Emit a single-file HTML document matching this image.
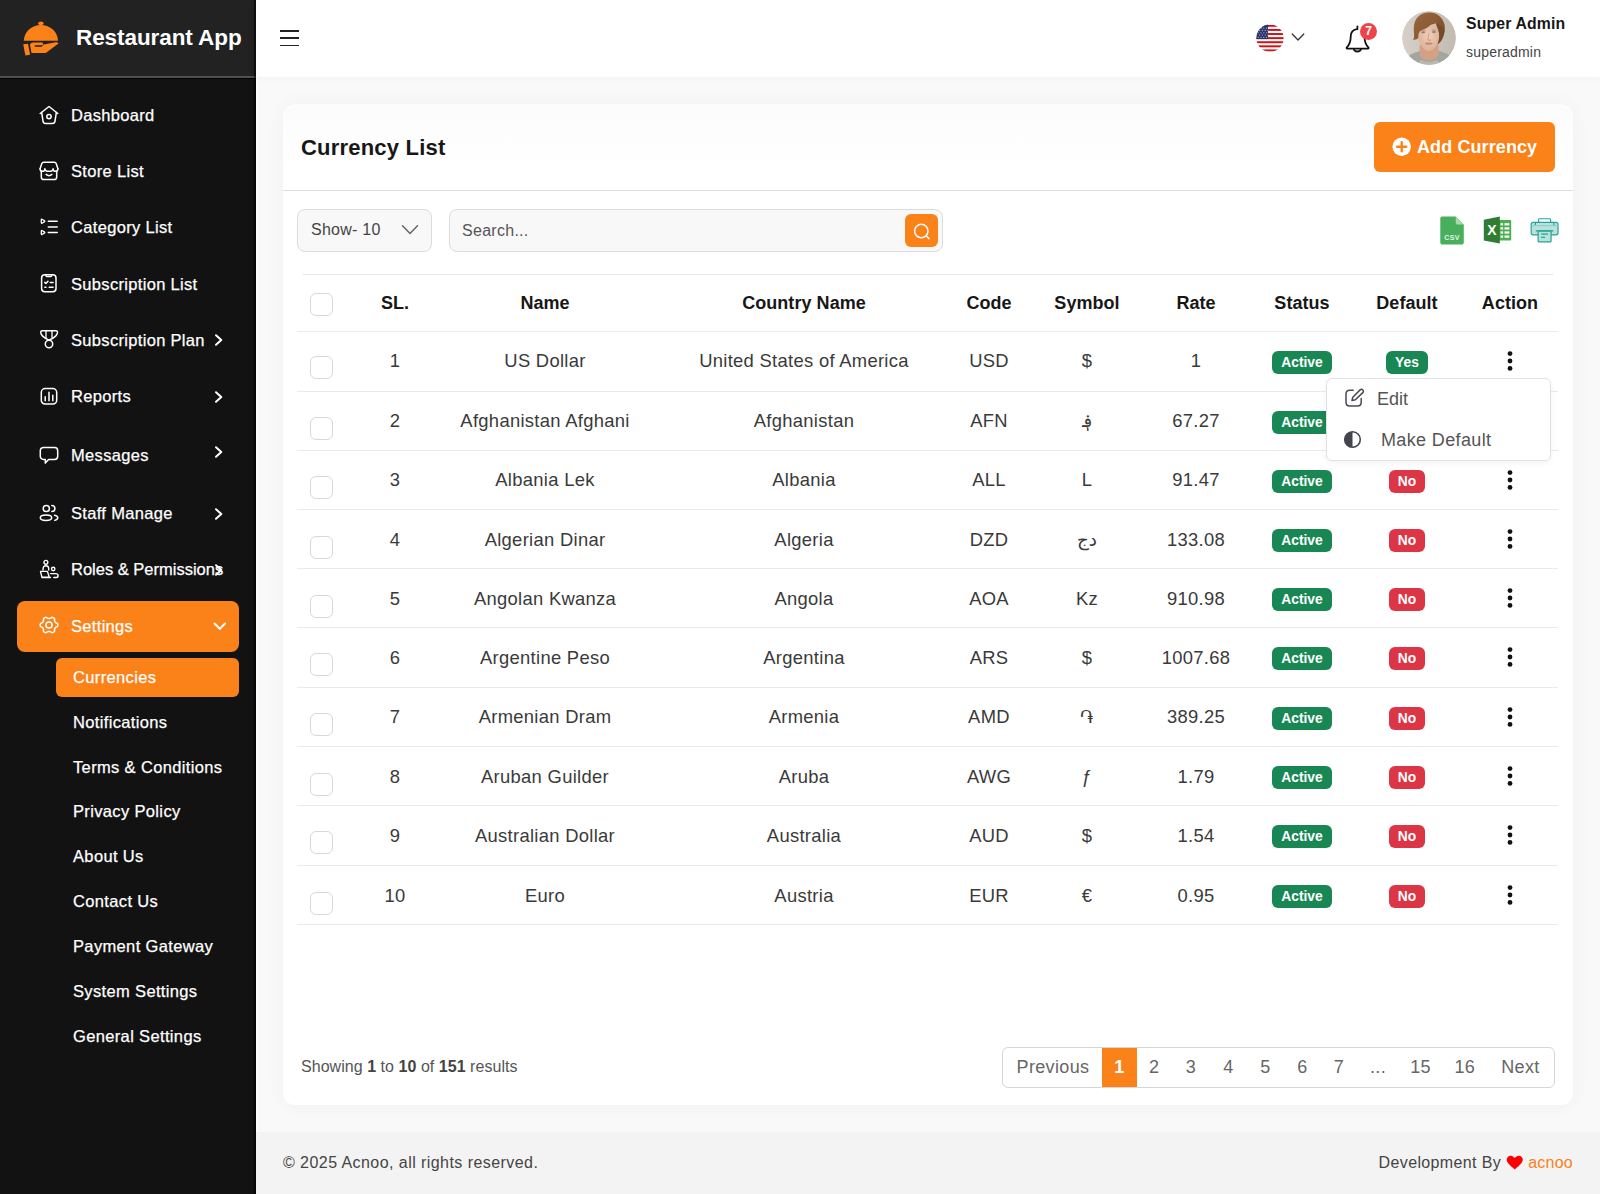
<!DOCTYPE html>
<html lang="en">
<head>
<meta charset="utf-8">
<title>Currency List</title>
<style>
*{box-sizing:border-box;margin:0;padding:0}
html,body{width:1600px;height:1194px;overflow:hidden}
body{font-family:"Liberation Sans","DejaVu Sans",sans-serif;background:#f9f9f9;color:#222;position:relative}
.abs{position:absolute}
/* sidebar */
#side{position:absolute;left:0;top:0;width:256px;height:1194px;background:#121212}
#brand{position:absolute;left:0;top:0;width:256px;height:78px;background:#222;border-bottom:2px solid #505050;box-shadow:0 1px 0 #000}
#brand .name{position:absolute;left:76px;top:22px;font-size:22.5px;font-weight:700;color:#fff;letter-spacing:-0.08px;line-height:32px;white-space:nowrap}
.mi{position:absolute;left:71px;color:#fff;font-size:16.5px;line-height:20px;white-space:nowrap;letter-spacing:0.32px;-webkit-text-stroke:0.25px #fff}
.ico{position:absolute;left:39px;width:20px;height:20px}
.ico svg{display:block}
.arr{position:absolute;left:212px}
.sub{position:absolute;left:73px;color:#fff;font-size:16.5px;line-height:20px;white-space:nowrap;letter-spacing:0.35px;-webkit-text-stroke:0.25px #fff}
#set{position:absolute;left:17px;top:600.5px;width:222px;height:51px;background:#fb8119;border-radius:8px}
#cur{position:absolute;left:56px;top:657.5px;width:183px;height:39px;background:#fb8119;border-radius:6px}
/* topbar */
#top{position:absolute;left:256px;top:0;width:1344px;height:77px;background:#fff;box-shadow:0 1px 8px rgba(0,0,0,0.03)}
/* card */
#card{position:absolute;left:283px;top:104px;width:1290px;height:1001px;background:linear-gradient(#fcfcfc,#fff 70px);border-radius:12px;box-shadow:0 0 20px rgba(0,0,0,0.04)}
#foot{position:absolute;left:256px;top:1132px;width:1344px;height:62px;background:#f3f3f3}

/* topbar items */
#burger{position:absolute;left:24px;top:30px;width:20px;height:16px}
#burger i{position:absolute;left:0;width:19px;height:1.6px;background:#222}
#flag{position:absolute;left:1000px;top:24px;width:28px;height:28px}
#uname{position:absolute;left:1210px;top:14px;font-size:15.8px;font-weight:700;color:#171717;line-height:20px;white-space:nowrap;letter-spacing:0.15px}
#urole{position:absolute;left:1210px;top:42.700px;font-size:14px;color:#444;line-height:18px;white-space:nowrap;letter-spacing:0.2px}
#avatar{position:absolute;left:1146px;top:11px;width:54px;height:54px;border-radius:50%;overflow:hidden}
/* card content */
#title{position:absolute;left:18px;top:29px;font-size:22px;font-weight:700;color:#171717;line-height:30px;white-space:nowrap;letter-spacing:0.2px}
#addbtn{position:absolute;left:1091px;top:18.400px;width:181px;height:49.300px;background:#fb8119;border-radius:6px;color:#fff;font-weight:700;font-size:18px;line-height:50px;white-space:nowrap}
#addbtn span{position:absolute;left:43px;top:0;letter-spacing:0.1px}
#hr1{position:absolute;left:0;top:85.5px;width:1290px;height:1.5px;background:#dedee0}
#show{position:absolute;left:14px;top:105px;width:135px;height:43px;border:1px solid #dcdcdf;border-radius:8px;background:#f8f8f8;font-size:16px;color:#444;line-height:40px;padding-left:13px;letter-spacing:0.24px}
#search{position:absolute;left:166px;top:105px;width:494px;height:43px;border:1px solid #dcdcdf;border-radius:8px;background:#f8f8f8;font-size:16px;color:#555;line-height:41px;padding-left:12px;letter-spacing:0.28px}
#sbtn{position:absolute;left:455px;top:3.5px;width:33px;height:33px;background:#fb8119;border-radius:6px}
table{position:absolute;left:14px;top:170px;width:1261px;border-collapse:collapse;table-layout:fixed}
th,td{text-align:center;vertical-align:middle;padding:0;white-space:nowrap}
thead tr{height:57px;border-bottom:1px solid #ececf0}
tr.u td{padding-top:0;padding-bottom:1px}
tr.d td{padding-top:3px}
#tline{position:absolute;left:20px;top:170px;width:1250px;height:1px;background:#e6e6ea}
tbody tr{border-bottom:1px solid #e9e9ee}
th{font-size:18px;font-weight:700;color:#171717;letter-spacing:0.05px;padding-top:2px}
td{font-size:18.4px;color:#3a3a3a;letter-spacing:0.3px;padding-top:1px}
.c{text-align:left;padding-left:13px}
.cb{display:inline-block;width:23px;height:23px;border:1px solid #d8d8dc;border-radius:6px;background:#fff;vertical-align:middle;position:relative;top:1.5px}
td .cb{top:7px}
.bd{display:inline-block;height:23px;line-height:23px;border-radius:6px;color:#fff;font-size:13.8px;font-weight:700;padding:0 9.5px;position:relative;top:0.75px;letter-spacing:0}
.bd.r{padding:0 8.6px}
tr.d .bd{top:0px}
tr.u .bd{top:1.5px}
tr.d .dots{top:-2.5px}
tr.u .dots{top:-0.5px}
.g{background:#198754}.r{background:#dc3545}
.dots{display:inline-block;width:6px;height:20px;position:relative;top:-1.5px;vertical-align:middle}
#showing{position:absolute;left:18px;top:953px;font-size:16px;color:#555;line-height:20px;letter-spacing:0.04px}
#showing b{color:#444}
#pag{position:absolute;left:719px;top:943px;width:553px;height:41px;border:1px solid #d6d6db;border-radius:6px;background:#fff;overflow:hidden;font-size:18px;color:#666;line-height:39px}
#pag span{position:absolute;top:0;text-align:center;white-space:nowrap;letter-spacing:0.37px}
#pag .act{background:#fb8119;color:#fff;font-weight:700;height:39px}
#menu{position:absolute;left:1043px;top:274px;width:225px;height:83px;background:#fff;border:1px solid #e2e2e6;border-radius:6px;box-shadow:0 2px 6px rgba(0,0,0,0.05);font-size:18px;color:#555}
#menu span{position:absolute;white-space:nowrap;line-height:22px;letter-spacing:0.37px}
#copy{position:absolute;left:27px;top:21px;font-size:16px;color:#444;line-height:20px;letter-spacing:0.44px}
#dev{position:absolute;right:27px;top:21px;font-size:16px;color:#444;line-height:20px;white-space:nowrap;letter-spacing:0.36px}
#dev em{font-style:normal;color:#fb8119;letter-spacing:0.25px}
</style>
</head>
<body>
<div id="side">
  <div id="brand">
    <svg class="abs" style="left:20px;top:18px" width="42" height="40" viewBox="20 18 42 40"><g fill="#fb8119"><ellipse cx="40.900" cy="23.300" rx="2.700" ry="1.900"/><path d="M23.800 40.800C24.200 31.800 31.400 25 40.900 25s16.700 6.800 17.100 15.800z"/><path d="M23.200 44.300l4.800-.6 2.100 11-4.700.9z"/><path d="M30 44.600c.5-1.300 1.700-2.100 3.300-2.100h8.300c.9 0 1.500.6 1.500 1.400 0 .8-.6 1.400-1.500 1.400h-6.200c-.5 0-.8.300-.8.750s.3.750.8.750h6.300l1.900-2.300 12-2.300c1.200-.2 2.400.2 2.900 1.300L45.800 53.100H31.500z"/></g></svg>
    <div class="name">Restaurant App</div>
  </div>
<div class="abs" style="left:254px;top:0;width:2px;height:1194px;background:rgba(0,0,0,0.55);z-index:3"></div>
<!--SIDE-->
<div class="ico" style="top:104.5px"><svg width="20" height="20" viewBox="0 0 20 20" fill="none" stroke="#fff" stroke-width="1.500" stroke-linecap="round" stroke-linejoin="round"><path d="M1.200 8.500 10 1.500l8.800 7"/><path d="M2.700 7.600l1.300 8.600c.2 1.400 1.200 2.200 2.600 2.200h6.800c1.400 0 2.400-.8 2.600-2.200l1.300-8.600"/><circle cx="10" cy="11.600" r="2.200"/></svg></div><div class="mi" style="top:104.5px">Dashboard</div>
<div class="ico" style="top:160.7px"><svg width="20" height="20" viewBox="0 0 20 20" fill="none" stroke="#fff" stroke-width="1.500" stroke-linecap="round" stroke-linejoin="round"><path d="M1.100 7.700 2.800 2.600c.3-.8 1-1.300 1.900-1.300h10.600c.9 0 1.600.5 1.900 1.300l1.700 5.100"/><path d="M1.100 7.700c0 1.500 1 2.600 2.400 2.600s2.400-1.100 2.400-2.600c0 1.500 1.800 2.600 4.100 2.600s4.100-1.100 4.100-2.600c0 1.500 1 2.600 2.400 2.600s2.400-1.100 2.400-2.600"/><path d="M2.300 10v5.900c0 1.600 1 2.600 2.600 2.600h10.200c1.600 0 2.600-1 2.600-2.600V10"/><path d="M7.100 13.400c1.600 1.400 4.200 1.400 5.800 0"/></svg></div><div class="mi" style="top:161px">Store List</div>
<div class="ico" style="top:216.7px"><svg width="20" height="20" viewBox="0 0 20 20" fill="none" stroke="#fff" stroke-width="1.500" stroke-linecap="round" stroke-linejoin="round"><path d="M9.300 4.200h8.900M9.300 10h8.900M9.300 15.500h8.900"/><path d="M2.300 2.600v3.200c0 .4.400.6.700.4l2.600-1.600c.3-.2.300-.6 0-.8L3 2.200c-.3-.2-.7 0-.7.400zM2.300 13.900v3.200c0 .4.400.6.700.4l2.600-1.600c.3-.2.300-.6 0-.8L3 13.500c-.3-.2-.7 0-.7.400z" stroke-width="1.300"/></svg></div><div class="mi" style="top:217px">Category List</div>
<div class="ico" style="top:273.0px"><svg width="20" height="20" viewBox="0 0 20 20" fill="none" stroke="#fff" stroke-width="1.500" stroke-linecap="round" stroke-linejoin="round"><rect x="2.600" y="1.800" width="14.400" height="17" rx="3.200"/><path d="M6.800 1.800v.6c0 .7.500 1.100 1.100 1.100h3.800c.6 0 1.100-.4 1.100-1.100v-.6" stroke-width="1.300"/><path d="M5.800 9.400l1.100 1.100 2.100-2.300M11.200 9.500h2.900M5.900 14.300h1.100M10.200 14.300h3.900"/></svg></div><div class="mi" style="top:273.5px">Subscription List</div>
<div class="ico" style="top:329.0px"><svg width="20" height="20" viewBox="0 0 20 20" fill="none" stroke="#fff" stroke-width="1.500" stroke-linecap="round" stroke-linejoin="round"><path d="M3.200 1.800h13.800c1 0 1.600.6 1.500 1.600-.4 2.600-2.200 4.500-5.200 6.100L10 11.200 6.900 9.500C3.900 7.900 2.100 6 1.700 3.400 1.600 2.400 2.200 1.800 3.200 1.800z"/><path d="M7 1.800v6.800M13 1.800v6.800" stroke-width="1.300"/><circle cx="10" cy="15" r="3.700"/></svg></div><div class="mi" style="top:329.5px">Subscription Plan</div>
<svg class="arr" style="top:333.0px" width="12" height="14" viewBox="0 0 12 14" fill="none" stroke="#fff" stroke-width="2" stroke-linecap="round" stroke-linejoin="round"><path d="M4 2.200 9.300 7 4 11.800"/></svg>
<div class="ico" style="top:385.5px"><svg width="20" height="20" viewBox="0 0 20 20" fill="none" stroke="#fff" stroke-width="1.500" stroke-linecap="round" stroke-linejoin="round"><rect x="2.300" y="2.600" width="15.400" height="15.400" rx="3.800"/><path d="M6.200 10.800v4M10 6.200v8.600M13.800 9.200v5.600"/></svg></div><div class="mi" style="top:386px">Reports</div>
<svg class="arr" style="top:389.5px" width="12" height="14" viewBox="0 0 12 14" fill="none" stroke="#fff" stroke-width="2" stroke-linecap="round" stroke-linejoin="round"><path d="M4 2.200 9.300 7 4 11.800"/></svg>
<div class="ico" style="top:445px"><svg width="20" height="20" viewBox="0 0 20 20" fill="none" stroke="#fff" stroke-width="1.500" stroke-linecap="round" stroke-linejoin="round"><path d="M4.500 2.500h11c1.900 0 3.200 1.300 3.200 3.200v5.500c0 1.900-1.300 3.200-3.200 3.200H9.600l-3.300 3.700v-3.700H4.500c-1.900 0-3.200-1.300-3.200-3.200V5.700c0-1.900 1.300-3.200 3.200-3.200z"/></svg></div><div class="mi" style="top:445px">Messages</div>
<svg class="arr" style="top:445px" width="12" height="14" viewBox="0 0 12 14" fill="none" stroke="#fff" stroke-width="2" stroke-linecap="round" stroke-linejoin="round"><path d="M4 2.200 9.300 7 4 11.800"/></svg>
<div class="ico" style="top:503px"><svg width="20" height="20" viewBox="0 0 20 20" fill="none" stroke="#fff" stroke-width="1.500" stroke-linecap="round" stroke-linejoin="round"><circle cx="7.300" cy="5.500" r="3.100"/><ellipse cx="7" cy="14.800" rx="5.700" ry="2.700"/><path d="M12.800 2.400c1.700 0 3.100 1.400 3.100 3.100s-1.400 3.100-3.100 3.100M15.500 12.200c2 .4 3.300 1.400 3.300 2.600s-1.200 2.100-3 2.600"/></svg></div><div class="mi" style="top:503px">Staff Manage</div>
<svg class="arr" style="top:506.5px" width="12" height="14" viewBox="0 0 12 14" fill="none" stroke="#fff" stroke-width="2" stroke-linecap="round" stroke-linejoin="round"><path d="M4 2.200 9.300 7 4 11.800"/></svg>
<div class="ico" style="top:558.5px"><svg width="20" height="20" viewBox="0 0 20 20" fill="none" stroke="#fff" stroke-width="1.500" stroke-linecap="round" stroke-linejoin="round"><circle cx="6.900" cy="3.300" r="1.900" stroke-width="1.400"/><path d="M4.100 11V9.600c0-1.800 1.100-2.900 2.800-2.900s2.800 1.100 2.800 2.900V11" stroke-width="1.400"/><path d="M1.500 12.400h6.900l1.900 5.800H2.900zM2.900 18.500h8.600" stroke-width="1.400"/><circle cx="14.200" cy="10" r="1.700" stroke-width="1.400"/><path d="M11.600 14.600h5c1.500 0 2.500.9 2.500 2.100 0 1-.8 1.800-1.900 1.800h-2.400" stroke-width="1.400"/></svg></div><div class="mi" style="top:559px;letter-spacing:0">Roles &amp; Permissions</div>
<svg class="arr" style="top:562.5px" width="12" height="14" viewBox="0 0 12 14" fill="none" stroke="#fff" stroke-width="2" stroke-linecap="round" stroke-linejoin="round"><path d="M4 2.200 9.300 7 4 11.800"/></svg>
<div id="set"></div>
<div class="ico" style="top:615px"><svg width="20" height="20" viewBox="0 0 20 20" fill="none" stroke="#fff" stroke-width="1.500" stroke-linecap="round" stroke-linejoin="round"><path d="M18.80 10.00 18.78 10.36 18.73 10.73 18.63 11.08 18.44 11.41 18.09 11.70 17.58 11.93 17.07 12.12 16.70 12.32 16.46 12.54 16.28 12.78 16.13 13.03 15.98 13.28 15.83 13.53 15.68 13.78 15.55 14.04 15.46 14.35 15.47 14.76 15.55 15.27 15.60 15.80 15.51 16.24 15.30 16.56 15.03 16.82 14.72 17.05 14.40 17.24 14.06 17.41 13.71 17.55 13.33 17.64 12.93 17.65 12.49 17.51 12.03 17.20 11.60 16.88 11.24 16.67 10.91 16.59 10.60 16.56 10.30 16.56 10.00 16.55 9.70 16.56 9.40 16.56 9.09 16.59 8.76 16.67 8.40 16.88 7.97 17.20 7.51 17.51 7.07 17.65 6.67 17.64 6.29 17.55 5.94 17.41 5.60 17.24 5.28 17.05 4.97 16.82 4.70 16.56 4.49 16.24 4.40 15.80 4.45 15.27 4.53 14.76 4.54 14.35 4.45 14.04 4.32 13.78 4.17 13.53 4.02 13.28 3.87 13.03 3.72 12.78 3.54 12.54 3.30 12.32 2.93 12.12 2.42 11.93 1.91 11.70 1.56 11.41 1.37 11.08 1.27 10.73 1.22 10.36 1.20 10.00 1.22 9.64 1.27 9.27 1.37 8.92 1.56 8.59 1.91 8.30 2.42 8.07 2.93 7.88 3.30 7.68 3.54 7.46 3.72 7.22 3.87 6.97 4.02 6.72 4.17 6.47 4.32 6.22 4.45 5.96 4.54 5.65 4.53 5.24 4.45 4.73 4.40 4.20 4.49 3.76 4.70 3.44 4.97 3.18 5.28 2.95 5.60 2.76 5.94 2.59 6.29 2.45 6.67 2.36 7.07 2.35 7.51 2.49 7.97 2.80 8.40 3.12 8.76 3.33 9.09 3.41 9.40 3.44 9.70 3.44 10.00 3.45 10.30 3.44 10.60 3.44 10.91 3.41 11.24 3.33 11.60 3.12 12.03 2.80 12.49 2.49 12.93 2.35 13.33 2.36 13.71 2.45 14.06 2.59 14.40 2.76 14.72 2.95 15.03 3.18 15.30 3.44 15.51 3.76 15.60 4.20 15.55 4.73 15.47 5.24 15.46 5.65 15.55 5.96 15.68 6.22 15.83 6.47 15.98 6.72 16.13 6.97 16.28 7.22 16.46 7.46 16.70 7.68 17.07 7.88 17.58 8.07 18.09 8.30 18.44 8.59 18.63 8.92 18.73 9.27 18.78 9.64z"/><circle cx="10" cy="10" r="3.100"/></svg></div><div class="mi" style="top:616px">Settings</div>
<svg class="arr" style="top:619px;left:212px" width="16" height="14" viewBox="0 0 16 14" fill="none" stroke="#fff" stroke-width="2.100" stroke-linecap="round" stroke-linejoin="round"><path d="M2.500 4.500 7.800 9.800 13.100 4.500"/></svg>
<div id="cur"></div>
<div class="sub" style="top:666.5px">Currencies</div>
<div class="sub" style="top:711.5px">Notifications</div>
<div class="sub" style="top:756.5px">Terms &amp; Conditions</div>
<div class="sub" style="top:801px">Privacy Policy</div>
<div class="sub" style="top:846px">About Us</div>
<div class="sub" style="top:891px">Contact Us</div>
<div class="sub" style="top:936px">Payment Gateway</div>
<div class="sub" style="top:981px">System Settings</div>
<div class="sub" style="top:1026px">General Settings</div>
<!--/SIDE-->
</div>
<div id="top">
  <div id="burger"><i style="top:0"></i><i style="top:7.300px"></i><i style="top:14.700px"></i></div>
  <svg id="flag" viewBox="0 0 28 28"><defs><clipPath id="fc"><circle cx="14" cy="14.200" r="13.600"/></clipPath></defs><g clip-path="url(#fc)"><rect width="28" height="28" fill="#fff"/><g fill="#cf1016"><rect y="0.85" width="28" height="1.950"/><rect y="4.95" width="28" height="1.950"/><rect y="9.05" width="28" height="1.950"/><rect y="13.15" width="28" height="1.950"/><rect y="17.25" width="28" height="1.950"/><rect y="21.35" width="28" height="1.950"/><rect y="25.45" width="28" height="1.950"/></g><rect width="12.100" height="15.100" fill="#27346b"/><g fill="#aab0cc"><circle cx="2.2" cy="4.2" r=".65"/><circle cx="5.0" cy="4.2" r=".65"/><circle cx="7.8" cy="4.2" r=".65"/><circle cx="10.6" cy="4.2" r=".65"/><circle cx="3.6" cy="6.5" r=".65"/><circle cx="6.4" cy="6.5" r=".65"/><circle cx="9.2" cy="6.5" r=".65"/><circle cx="12.0" cy="6.5" r=".65"/><circle cx="2.2" cy="8.8" r=".65"/><circle cx="5.0" cy="8.8" r=".65"/><circle cx="7.8" cy="8.8" r=".65"/><circle cx="10.6" cy="8.8" r=".65"/><circle cx="3.6" cy="11.1" r=".65"/><circle cx="6.4" cy="11.1" r=".65"/><circle cx="9.2" cy="11.1" r=".65"/><circle cx="12.0" cy="11.1" r=".65"/><circle cx="2.2" cy="13.4" r=".65"/><circle cx="5.0" cy="13.4" r=".65"/><circle cx="7.8" cy="13.4" r=".65"/><circle cx="10.6" cy="13.4" r=".65"/></g></g></svg>
  <svg class="abs" style="left:1035px;top:31.5px" width="14" height="10" viewBox="0 0 14 10" fill="none" stroke="#333" stroke-width="1.250" stroke-linecap="round" stroke-linejoin="round"><path d="M1.200 2 7 8l5.800-6"/></svg>
  <svg class="abs" style="left:1088px;top:24px" width="28" height="30" viewBox="1344 24 28 30" fill="none" stroke="#111" stroke-width="1.800" stroke-linecap="round" stroke-linejoin="round"><path d="M1357.400 26.500v2.600M1357.400 29.200c-4.200.3-6.700 3.300-6.700 7.600 0 5.200-1.600 8.400-3.900 10.600-.5.500-.3 1.200.5 1.200h20.600c.8 0 1-.7.500-1.200-2.300-2.200-3.900-5.400-3.900-10.600"/><path d="M1353.800 48.800c.3 1.700 1.700 2.700 3.600 2.700s3.300-1 3.600-2.700"/></svg>
  <div class="abs" style="left:1104px;top:23px;width:17px;height:17px;border-radius:50%;background:#ee4447;color:#fff;font-size:12px;line-height:17px;text-align:center;font-weight:700">7</div>
  <svg id="avatar" viewBox="0 0 54 54"><defs><clipPath id="ac"><circle cx="27" cy="27" r="27"/></clipPath><filter id="bl" x="-20%" y="-20%" width="140%" height="140%"><feGaussianBlur stdDeviation="0.6"/></filter><linearGradient id="abg" x1="0" x2="1"><stop offset="0" stop-color="#d6d0c8"/><stop offset="1" stop-color="#c2bbb0"/></linearGradient><radialGradient id="skin" cx=".5" cy=".45" r=".6"><stop offset="0" stop-color="#f0cfb8"/><stop offset="1" stop-color="#dcae92"/></radialGradient><linearGradient id="hair" x1="0" x2="1" y1="0" y2="1"><stop offset="0" stop-color="#9a6840"/><stop offset=".5" stop-color="#8a5a34"/><stop offset="1" stop-color="#6f4526"/></linearGradient></defs><g clip-path="url(#ac)"><rect width="54" height="54" fill="url(#abg)"/><g filter="url(#bl)"><path d="M4 54c0-7 3-10.500 8-12l6-2 19-.3 6 2.300c5 1.500 8 5 8 12z" fill="#a3a69c"/><path d="M17.600 34h19v9c-1.500 4-5 6.500-9.500 6.500s-8-2.500-9.500-6.500z" fill="#d3a286"/><path d="M15 54c1-2.500 2.500-4 4.500-5 2 1.200 4.500 1.800 7.500 1.800s5.500-.6 7.500-1.800c2 1 3.500 2.500 4.500 5z" fill="#b9b9b1"/><path d="M16.300 23c0-6 4.200-10 10.600-10s10.300 4 10.300 10c0 4-.6 8-2.600 11.500-2 3.500-4.900 5.600-7.700 5.600s-5.700-2.100-7.800-5.600c-2-3.500-2.800-7.500-2.800-11.500z" fill="url(#skin)"/><path d="M10.900 28.800c2.500.3 4.500-.5 5.600-2.200-.3-2-.1-4 1.100-6.100 1.500-.8 3-1.500 3.900-2.200 3-1 5.500-2.800 6.800-4.300 2-.8 4.200-1.300 5.600-1.800.6 2.200 1.500 4.300 2.100 6.100.8 2.200 1.300 4.500 1.200 6.700-.1 3-.6 5.800-1.700 8.500 2-1.500 3.500-3.200 4.500-5 2.500-5 3.500-10 2.500-15C40.500 6 35 1.400 27.100 1.400 18.500 1.400 12.300 7 11.800 16c-.2 4 .5 7.500.3 10-.1 1.200-.5 2-1.200 2.800z" fill="url(#hair)"/><path d="M33.900 12.200c.6 2.200 1.500 4.300 2.100 6.100.8 2.200 1.300 4.500 1.200 6.700-.1 3-.6 5.800-1.700 8.500 2-1.500 3.500-3.200 4.500-5 1.500-3 2.300-6 2.600-9-1.500-3.500-4.500-6-8.700-7.300z" fill="#74482a" opacity=".7"/><ellipse cx="21.200" cy="21.300" rx="1.900" ry="1" fill="#6e8494"/><ellipse cx="31.900" cy="21" rx="1.900" ry="1" fill="#6e8494"/><path d="M19 19.600c1.500-.8 3-.8 4.500-.2M29.800 19.400c1.500-.7 3-.6 4.500.1" stroke="#a57c5c" stroke-width=".7" fill="none"/><path d="M26.800 22.500l-.8 6.300c.8.600 2.200.6 3.200 0" stroke="#d0a086" stroke-width="1.100" fill="none"/><ellipse cx="26.700" cy="32.600" rx="3.900" ry="1.300" fill="#c98c80"/></g></g></svg>
  <div id="uname">Super Admin</div>
  <div id="urole">superadmin</div>
</div>
<div id="card">
  <div id="title">Currency List</div>
  <div id="addbtn"><svg class="abs" style="left:18px;top:14.800px" width="19.400" height="19.400" viewBox="0 0 18 18"><circle cx="9" cy="9" r="8.600" fill="#fff"/><path d="M9 4.800v8.400M4.800 9h8.400" stroke="#fb8119" stroke-width="2.200" stroke-linecap="round"/></svg><span>Add Currency</span></div>
  <div id="hr1"></div>
  <div id="show">Show- 10<svg class="abs" style="left:103px;top:14px" width="18" height="12" viewBox="0 0 18 12" fill="none" stroke="#666" stroke-width="1.500" stroke-linecap="round" stroke-linejoin="round"><path d="M1.500 1.800 9 9.500l7.500-7.700"/></svg></div>
  <div id="search">Search...<div id="sbtn"><svg class="abs" style="left:7px;top:8px" width="20" height="20" viewBox="0 0 20 20" fill="none" stroke="#fff" stroke-width="1.500" stroke-linecap="round"><circle cx="9.300" cy="9" r="6.700"/><path d="M14.200 13.800l2.800 2.800"/></svg></div></div>
<svg class="abs" style="left:1157px;top:112px" width="25.300" height="29" viewBox="0 0 27 31"><path d="M2.500.6h14.300l8.600 8.600v19c0 1.300-.9 2.200-2.200 2.200H2.500c-1.300 0-2.200-.9-2.200-2.200V2.800C.3 1.500 1.200.6 2.500.6z" fill="#48b05c"/><path d="M16.800.6l8.600 8.600h-6.400c-1.300 0-2.200-.9-2.200-2.200z" fill="#a6dbb0"/><text x="12.800" y="25.200" font-family="Liberation Sans,sans-serif" font-size="7.500" font-weight="700" fill="#e6f6e9" text-anchor="middle" letter-spacing=".3">CSV</text></svg>
<svg class="abs" style="left:1200px;top:112px" width="29" height="28" viewBox="0 0 29 28"><rect x="14" y="4" width="14.200" height="20.500" rx=".8" fill="#4caf50"/><g fill="#fff"><rect x="17.500" y="7.200" width="2.600" height="2.200"/><rect x="21.500" y="7.200" width="4.800" height="2.200"/><rect x="17.500" y="11.300" width="2.600" height="2.200"/><rect x="21.500" y="11.300" width="4.800" height="2.200"/><rect x="17.500" y="15.400" width="2.600" height="2.200"/><rect x="21.500" y="15.400" width="4.800" height="2.200"/><rect x="17.500" y="19.500" width="2.600" height="2.200"/><rect x="21.500" y="19.500" width="4.800" height="2.200"/></g><path d="M.8 3.800L16.800.6v27L.8 24.600z" fill="#2e7d32"/><text x="8.800" y="19.200" font-family="Liberation Sans,sans-serif" font-size="14" font-weight="700" fill="#fff" text-anchor="middle">X</text></svg>
<svg class="abs" style="left:1247px;top:114px" width="29.200" height="25" viewBox="0 0 31 27" fill="#b9e2dd" stroke="#27a397" stroke-width="1.300" stroke-linejoin="round"><rect x="9" y=".8" width="13" height="7" rx="1" fill="#fff"/><rect x="1" y="4.800" width="29" height="13.400" rx="2.200"/><path d="M1.500 8.200h28" fill="none" stroke="#8fd0c8"/><path d="M5.500 5v2.600M25.500 5v2.600" fill="none"/><rect x="8.500" y="14" width="14" height="11.800" rx="1"/><path d="M6 14h19M11.800 17.500h7.400M11.800 21h4.200" fill="none"/></svg>
<div id="tline"></div>
<table>
<colgroup><col style="width:67px"><col style="width:62px"><col style="width:238px"><col style="width:280px"><col style="width:90px"><col style="width:106px"><col style="width:112px"><col style="width:100px"><col style="width:110px"><col style="width:96px"></colgroup>
<thead><tr><th class="c"><span class="cb"></span></th><th>SL.</th><th>Name</th><th>Country Name</th><th>Code</th><th>Symbol</th><th>Rate</th><th>Status</th><th>Default</th><th>Action</th></tr></thead>
<tbody>
<tr class="u" style="height:60px"><td class="c"><span class="cb"></span></td><td>1</td><td>US Dollar</td><td>United States of America</td><td>USD</td><td>$</td><td>1</td><td><span class="bd g">Active</span></td><td><span class="bd g">Yes</span></td><td><svg class="dots" viewBox="0 0 6 20"><circle cx="3" cy="2.600" r="2.400" fill="#111"/><circle cx="3" cy="10" r="2.400" fill="#111"/><circle cx="3" cy="17.400" r="2.400" fill="#111"/></svg></td></tr>
<tr style="height:59px"><td class="c"><span class="cb"></span></td><td>2</td><td>Afghanistan Afghani</td><td>Afghanistan</td><td>AFN</td><td>؋</td><td>67.27</td><td><span class="bd g">Active</span></td><td><span class="bd r">No</span></td><td><svg class="dots" viewBox="0 0 6 20"><circle cx="3" cy="2.600" r="2.400" fill="#111"/><circle cx="3" cy="10" r="2.400" fill="#111"/><circle cx="3" cy="17.400" r="2.400" fill="#111"/></svg></td></tr>
<tr style="height:59px"><td class="c"><span class="cb"></span></td><td>3</td><td>Albania Lek</td><td>Albania</td><td>ALL</td><td>L</td><td>91.47</td><td><span class="bd g">Active</span></td><td><span class="bd r">No</span></td><td><svg class="dots" viewBox="0 0 6 20"><circle cx="3" cy="2.600" r="2.400" fill="#111"/><circle cx="3" cy="10" r="2.400" fill="#111"/><circle cx="3" cy="17.400" r="2.400" fill="#111"/></svg></td></tr>
<tr class="d" style="height:59px"><td class="c"><span class="cb"></span></td><td>4</td><td>Algerian Dinar</td><td>Algeria</td><td>DZD</td><td>دج</td><td>133.08</td><td><span class="bd g">Active</span></td><td><span class="bd r">No</span></td><td><svg class="dots" viewBox="0 0 6 20"><circle cx="3" cy="2.600" r="2.400" fill="#111"/><circle cx="3" cy="10" r="2.400" fill="#111"/><circle cx="3" cy="17.400" r="2.400" fill="#111"/></svg></td></tr>
<tr class="d" style="height:59px"><td class="c"><span class="cb"></span></td><td>5</td><td>Angolan Kwanza</td><td>Angola</td><td>AOA</td><td>Kz</td><td>910.98</td><td><span class="bd g">Active</span></td><td><span class="bd r">No</span></td><td><svg class="dots" viewBox="0 0 6 20"><circle cx="3" cy="2.600" r="2.400" fill="#111"/><circle cx="3" cy="10" r="2.400" fill="#111"/><circle cx="3" cy="17.400" r="2.400" fill="#111"/></svg></td></tr>
<tr style="height:60px"><td class="c"><span class="cb"></span></td><td>6</td><td>Argentine Peso</td><td>Argentina</td><td>ARS</td><td>$</td><td>1007.68</td><td><span class="bd g">Active</span></td><td><span class="bd r">No</span></td><td><svg class="dots" viewBox="0 0 6 20"><circle cx="3" cy="2.600" r="2.400" fill="#111"/><circle cx="3" cy="10" r="2.400" fill="#111"/><circle cx="3" cy="17.400" r="2.400" fill="#111"/></svg></td></tr>
<tr style="height:59px"><td class="c"><span class="cb"></span></td><td>7</td><td>Armenian Dram</td><td>Armenia</td><td>AMD</td><td>֏</td><td>389.25</td><td><span class="bd g">Active</span></td><td><span class="bd r">No</span></td><td><svg class="dots" viewBox="0 0 6 20"><circle cx="3" cy="2.600" r="2.400" fill="#111"/><circle cx="3" cy="10" r="2.400" fill="#111"/><circle cx="3" cy="17.400" r="2.400" fill="#111"/></svg></td></tr>
<tr class="d" style="height:59px"><td class="c"><span class="cb"></span></td><td>8</td><td>Aruban Guilder</td><td>Aruba</td><td>AWG</td><td>ƒ</td><td>1.79</td><td><span class="bd g">Active</span></td><td><span class="bd r">No</span></td><td><svg class="dots" viewBox="0 0 6 20"><circle cx="3" cy="2.600" r="2.400" fill="#111"/><circle cx="3" cy="10" r="2.400" fill="#111"/><circle cx="3" cy="17.400" r="2.400" fill="#111"/></svg></td></tr>
<tr style="height:60px"><td class="c"><span class="cb"></span></td><td>9</td><td>Australian Dollar</td><td>Australia</td><td>AUD</td><td>$</td><td>1.54</td><td><span class="bd g">Active</span></td><td><span class="bd r">No</span></td><td><svg class="dots" viewBox="0 0 6 20"><circle cx="3" cy="2.600" r="2.400" fill="#111"/><circle cx="3" cy="10" r="2.400" fill="#111"/><circle cx="3" cy="17.400" r="2.400" fill="#111"/></svg></td></tr>
<tr class="d" style="height:59px"><td class="c"><span class="cb"></span></td><td>10</td><td>Euro</td><td>Austria</td><td>EUR</td><td>€</td><td>0.95</td><td><span class="bd g">Active</span></td><td><span class="bd r">No</span></td><td><svg class="dots" viewBox="0 0 6 20"><circle cx="3" cy="2.600" r="2.400" fill="#111"/><circle cx="3" cy="10" r="2.400" fill="#111"/><circle cx="3" cy="17.400" r="2.400" fill="#111"/></svg></td></tr>
</tbody></table>
  <div id="menu"><svg class="abs" style="left:17px;top:8px" width="21" height="21" viewBox="0 0 21 21" fill="none" stroke="#4a4a55" stroke-width="1.500" stroke-linecap="round" stroke-linejoin="round"><path d="M9.200 3.200H5.800C3.600 3.200 2 4.800 2 7v8.200C2 17.400 3.600 19 5.800 19h7.600c2.200 0 3.800-1.600 3.800-3.800v-3.600"/><path d="M8 13.500l.8-3.300 7.300-7.300c.8-.8 2-.8 2.700 0s.8 1.900 0 2.700l-7.400 7.200z"/></svg>
<svg class="abs" style="left:16px;top:51px" width="19" height="19" viewBox="0 0 19 19"><circle cx="9.500" cy="9.500" r="7.800" fill="none" stroke="#44444e" stroke-width="1.600"/><path d="M9.500 1.700a7.800 7.800 0 0 0 0 15.600z" fill="#44444e"/></svg><span style="left:50px;top:9px;letter-spacing:0">Edit</span><span style="left:54px;top:50px">Make Default</span></div>
  <div id="showing">Showing <b>1</b> to <b>10</b> of <b>151</b> results</div>
  <div id="pag"><span class="act" style="left:99.3px;width:34.4px">1</span><span style="left:0px;width:100px">Previous</span><span style="left:101.2px;width:100px">2</span><span style="left:138px;width:100px">3</span><span style="left:175.5px;width:100px">4</span><span style="left:212.5px;width:100px">5</span><span style="left:249.5px;width:100px">6</span><span style="left:286px;width:100px">7</span><span style="left:325px;width:100px">...</span><span style="left:367.6px;width:100px">15</span><span style="left:411.8px;width:100px">16</span><span style="left:467.5px;width:100px">Next</span></div>
</div>
<div class="abs" style="left:256px;top:77px;width:2px;height:1117px;background:linear-gradient(90deg,#fff,rgba(255,255,255,0))"></div>
<div id="foot"><div id="copy">© 2025 Acnoo, all rights reserved.</div><div id="dev">Development By <svg width="17.5" height="15" viewBox="0 0 16 14" style="vertical-align:-2px"><path d="M8 13.500C3 9.500.500 7 .500 4.300.500 2.200 2.100.600 4.100.600 5.700.600 7.200 1.500 8 2.900 8.800 1.500 10.300.600 11.900.600c2 0 3.600 1.600 3.600 3.700 0 2.700-2.500 5.200-7.500 9.200z" fill="#f00"/></svg> <em>acnoo</em></div></div>
</body>
</html>
